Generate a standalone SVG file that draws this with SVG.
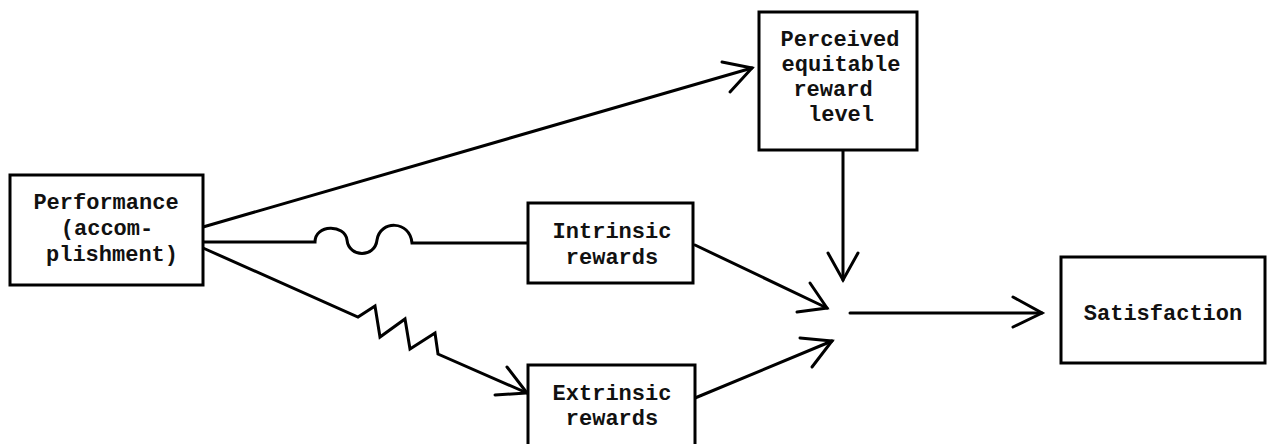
<svg xmlns="http://www.w3.org/2000/svg" width="1269" height="444" viewBox="0 0 1269 444">
<style>
.box{fill:#fff;stroke:#000;stroke-width:3}
.ln{fill:none;stroke:#000;stroke-width:3;stroke-linejoin:miter;stroke-linecap:round}
.head{fill:none;stroke:#000;stroke-width:3;stroke-linecap:round;stroke-linejoin:miter}
text{font-family:"Liberation Mono","Courier New",monospace;font-size:22px;font-weight:bold;fill:#111}
.c{text-anchor:middle}
</style>
<rect width="1269" height="444" fill="#fff"/>
<g id="connectors">
<line class="ln" x1="203" y1="227" x2="752" y2="68"/>
<polyline class="head" points="722,62 752,68 730,92"/>
<path class="ln" d="M203,242 L315,242 C315,224 345,224 347,240 C349,258 375,258 377,240 C380,220 410,220 412,243 L528,243"/>
<polyline class="ln" points="203,248 358,317 375,306 380,337 405,319 410,349 435,333 438,354 527,393"/>
<polyline class="head" points="507,367 527,393 495,395"/>
<line class="ln" x1="695" y1="245" x2="827" y2="308"/>
<polyline class="head" points="810,283 827,308 797,312"/>
<line class="ln" x1="695" y1="398" x2="832" y2="341"/>
<polyline class="head" points="800,338 832,341 812,367"/>
<line class="ln" x1="843" y1="150" x2="843" y2="280"/>
<polyline class="head" points="828,253 843,280 858,253"/>
<line class="ln" x1="850" y1="313" x2="1042" y2="313"/>
<polyline class="head" points="1013,297 1042,313 1013,327"/>
</g>
<g id="performance">
<rect class="box" x="10" y="175" width="193" height="110"/>
<text class="c" x="106" y="209">Performance</text>
<text class="c" x="107" y="235">(accom-</text>
<text class="c" x="112" y="261">plishment)</text>
</g>
<g id="perceived">
<rect class="box" x="759" y="12" width="158" height="138"/>
<text class="c" x="840" y="46">Perceived</text>
<text class="c" x="841" y="71">equitable</text>
<text class="c" x="833" y="96">reward</text>
<text class="c" x="841" y="121">level</text>
</g>
<g id="intrinsic">
<rect class="box" x="528" y="203" width="165" height="80"/>
<text class="c" x="612" y="238">Intrinsic</text>
<text class="c" x="612" y="264">rewards</text>
</g>
<g id="extrinsic">
<rect class="box" x="528" y="365" width="167" height="90"/>
<text class="c" x="612" y="400">Extrinsic</text>
<text class="c" x="612" y="425">rewards</text>
</g>
<g id="satisfaction">
<rect class="box" x="1061" y="257" width="204" height="106"/>
<text class="c" x="1163" y="320">Satisfaction</text>
</g>
</svg>
